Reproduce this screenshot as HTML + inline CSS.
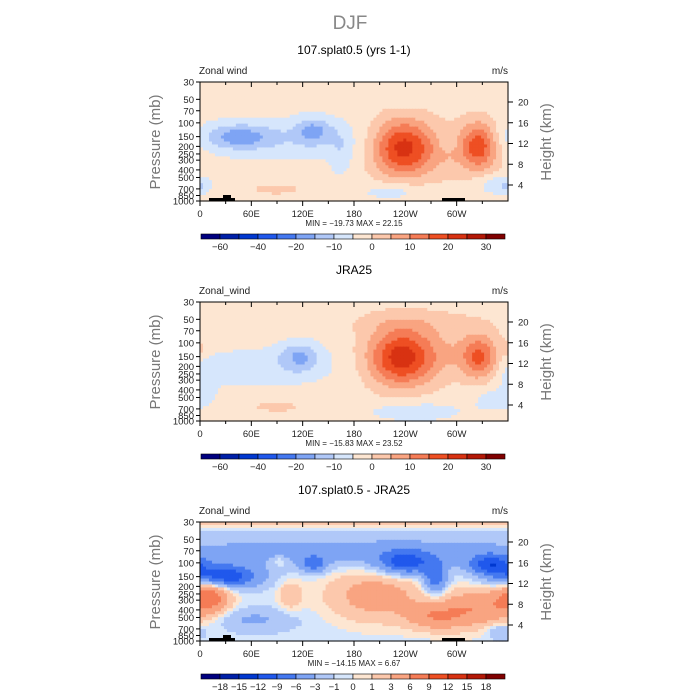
<!DOCTYPE html>
<html><head><meta charset="utf-8"><style>
body{margin:0;background:#fff}
svg{display:block;font-family:"Liberation Sans",sans-serif}
</style></head><body>
<svg id="c" width="700" height="700" viewBox="0 0 700 700">
<text x="350" y="29" text-anchor="middle" font-size="19" fill="#888">DJF</text>
</svg>
<script>
// Field data: blobs [lon, t(0 top..1 bottom), amplitude, sigmaLon, sigmaT]
const panelTitles = ["107.splat0.5 (yrs 1-1)", "JRA25", "107.splat0.5 - JRA25"];
const leftLabels = ["Zonal wind", "Zonal_wind", "Zonal_wind"];
const minMax = ["MIN = \u221219.73   MAX =   22.15", "MIN = \u221215.83   MAX =   23.52", "MIN = \u221214.15   MAX =     6.67"];
const baseVals = [-2.5, -2.5, -0.5];
const blobs1 = [[236,0.55,22,24,0.17],[326,0.53,19,15,0.14],[285,0.58,6,45,0.17],[45,0.46,-11,28,0.07],[133,0.41,-11,15,0.08],[85,0.48,-6,80,0.13],[165,0.6,-5,10,0.15],[225,0.92,-6,25,0.05],[345,0.86,-6,18,0.06],[0,0.88,-5,8,0.05],[90,0.9,4,25,0.04],[290,0.5,-4,8,0.05],[240,0.2,-4,8,0.03]];
const blobs2 = [[234,0.47,23,27,0.17],[327,0.47,17,15,0.13],[285,0.45,6,45,0.16],[117,0.46,-11,17,0.09],[60,0.55,-5,75,0.13],[5,0.65,-4,10,0.12],[250,0.92,-6,40,0.06],[345,0.82,-5,18,0.07],[250,0.17,4,55,0.08],[90,0.88,4,25,0.04],[0,0.4,3,6,0.05]];
const blobs3 = [[25,0.46,-12,30,0.07],[240,0.35,-9,22,0.07],[275,0.48,-8,10,0.09],[340,0.36,-9,18,0.06],[133,0.36,-6,10,0.05],[180,0.25,-4,220,0.09],[205,0.62,5,40,0.15],[12,0.6,8,16,0.1],[330,0.72,6,35,0.12],[275,0.8,5,25,0.08],[105,0.62,3,10,0.09],[93,0.33,3,7,0.03],[180,0.0,3,220,0.03],[60,0.82,-3,35,0.07],[350,0.92,-3,12,0.05]];
const levels1 = [-60,-50,-40,-30,-20,-15,-10,-5,0,5,10,15,20,25,30];
const levels3 = [-18,-15,-12,-9,-6,-3,-1,0,1,3,6,9,12,15,18];
const cbLabels1 = ["\u221260","\u221240","\u221220","\u221210","0","10","20","30"];
const cbLabelIdx1 = [0,2,4,6,8,10,12,14];
const pTicks = [30,50,70,100,150,200,250,300,400,500,700,850,1000];
const hTicks = [20,16,12,8,4];
const lonTicks = ["0","60E","120E","180","120W","60W"];
const colors = ["#00007f","#0020a8","#0038d0","#2058ec","#4478f0","#7ea4f4","#b0c8f8","#d6e6fc","#fde6d2","#fcc8ac","#f9a481","#f57c56","#ee4f23","#d83212","#b31806","#800000"];

const S = document.getElementById('c'), NS = "http://www.w3.org/2000/svg";
function mk(tag, attrs, parent){const e=document.createElementNS(NS,tag);for(const k in attrs)e.setAttribute(k,attrs[k]);(parent||S).appendChild(e);return e;}
const X0=200,X1=508,H=119;
const xs = lon => X0 + lon/360*(X1-X0);
function ys(top,p){return top + Math.log(p/30)/Math.log(1000/30)*H;}
// height axis: roughly linear in km between 20 km (top+20) and 4 km (top+103)
function yh(top,h){return top + 20 + (20-h)/16*83;}
function colorFor(v,lv){let i=0;while(i<lv.length&&v>=lv[i])i++;return colors[i];}
const allBlobs=[blobs1,blobs2,blobs3];
for(let k=0;k<3;k++){
  const off=k*220, top=82+off, bot=top+H;
  const lv = k<2?levels1:levels3;
  const g=mk('g',{});
  
  
  const nx=103, ny=40, cw=(X1-X0)/nx, ch=H/ny;
  for(let j=0;j<ny;j++)for(let i=0;i<nx;i++){
    const lon=(i+0.5)/nx*360, t=(j+0.5)/ny;
    let v=baseVals[k];
    for(const b of allBlobs[k]){let dl=Math.abs(lon-b[0]);dl=Math.min(dl,360-dl);v+=b[2]*Math.exp(-(dl*dl)/(2*b[3]*b[3])-((t-b[1])**2)/(2*b[4]*b[4]));}
    mk('rect',{x:(X0+i*cw).toFixed(2),y:(top+j*ch).toFixed(2),width:(cw+0.6).toFixed(2),height:(ch+0.6).toFixed(2),fill:colorFor(v,lv)},g);
  }
  if(k!==1){
    const t1=mk('rect',{x:209,y:bot-3,width:26,height:3,fill:"#000"});
    
    
    mk('rect',{x:223,y:bot-6,width:8,height:6,fill:"#000"});
    const t2=mk('rect',{x:442,y:bot-3,width:23,height:3,fill:"#000"});
    
    
  }
  const fr=mk('rect',{x:X0,y:top,width:X1-X0,height:H,fill:"none",stroke:"#000","stroke-width":1});
  
  
  const tt=mk('text',{x:354,y:top-28,"text-anchor":"middle","font-size":12,fill:"#000"});tt.textContent=panelTitles[k];
  
  
  const ll=mk('text',{x:199,y:top-8,"font-size":10,fill:"#222"});ll.textContent=leftLabels[k];
  
  
  const ul=mk('text',{x:508,y:top-8,"text-anchor":"end","font-size":10,fill:"#222"});ul.textContent="m/s";
  
  
  for(const p of pTicks){const y=ys(top,p);mk('line',{x1:X0,x2:X0-4,y1:y,y2:y,stroke:"#000"});
    const t=mk('text',{x:X0-6,y:y+3.5,"text-anchor":"end","font-size":9.5,fill:"#222"});t.textContent=p;
    
    }
  hTicks.forEach(h=>{const y=yh(top,h);mk('line',{x1:X1,x2:X1+5,y1:y,y2:y,stroke:"#000"});
    const t=mk('text',{x:X1+10,y:y+3.5,"font-size":9.5,fill:"#222"});t.textContent=h;
    
    });
  for(let lon=0;lon<360;lon+=30){const x=xs(lon),L=lon%60===0?5:3;
    mk('line',{x1:x,x2:x,y1:top,y2:top+L,stroke:"#000"});mk('line',{x1:x,x2:x,y1:bot,y2:bot+L,stroke:"#000"});}
  lonTicks.forEach((s,i)=>{const t=mk('text',{x:xs(i*60),y:bot+16,"text-anchor":"middle","font-size":9.5,fill:"#222"});t.textContent=s;
    
    });
  const mm=mk('text',{x:354,y:bot+25,"text-anchor":"middle","font-size":8,fill:"#222"});mm.textContent=minMax[k];
  
  
  const a1=mk('text',{transform:`translate(160,${top+60}) rotate(-90)`,"text-anchor":"middle","font-size":15,fill:"#777"});a1.textContent="Pressure (mb)";
  
  
  const a2=mk('text',{transform:`translate(551,${top+60}) rotate(-90)`,"text-anchor":"middle","font-size":15,fill:"#777"});a2.textContent="Height (km)";
  
  
  const cy=234+off, bw=19, cx=201;
  const cb=mk('g',{});
  
  
  colors.forEach((c,i)=>mk('rect',{x:cx+i*bw,y:cy,width:bw,height:5,fill:c,stroke:"#000","stroke-width":0.6},cb));
  if(k<2){cbLabels1.forEach((s,i)=>{const t=mk('text',{x:cx+(cbLabelIdx1[i]+1)*bw,y:cy+16,"text-anchor":"middle","font-size":9.5,fill:"#222"},cb);t.textContent=s;});}
  else{levels3.forEach((v,i)=>{const t=mk('text',{x:cx+(i+1)*bw,y:cy+16,"text-anchor":"middle","font-size":9.5,fill:"#222"},cb);t.textContent=v<0?"\u2212"+(-v):v;});}
}
</script>
</body></html>
